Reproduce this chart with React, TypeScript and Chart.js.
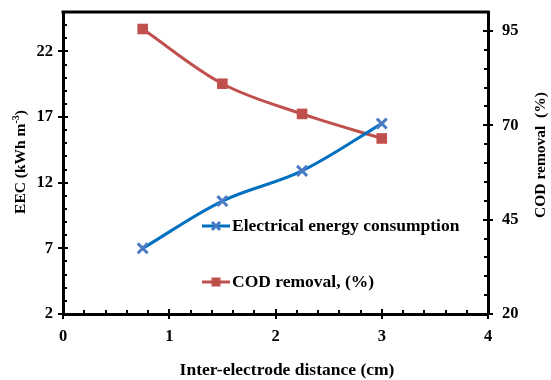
import React, { useEffect, useRef } from 'react';
import { Chart, registerables } from 'chart.js';

Chart.register(...registerables);

// ---- data ----
const distances = [0.75, 1.5, 2.25, 3];
const eecValues = [7.0, 10.6, 12.9, 16.5];
const codValues = [95.5, 81, 73, 66.5];

// ---- ticks ----
const xTicks = [0, 1, 2, 3, 4];
const eecTicks = [2, 7, 12, 17, 22];
const codTicks = [20, 45, 70, 95];
const xMinorStep = 0.2;
const eecMinorStep = 1;
const codMinorStep = 5;

const seriesNames = ['Electrical energy consumption', 'COD removal, (%)'];
const xTitle = 'Inter-electrode distance (cm)';
const codTitle = 'COD removal  (%)';

const FAMILY = '"Liberation Serif", "Times New Roman", serif';
const BLUE_LINE = '#0070C0';
const BLUE_MARK = '#4A7CC6';
const RED = '#C0504D';

const decorPlugin = {
  id: 'decor',
  afterDraw(chart: any) {
    const ctx = chart.ctx as CanvasRenderingContext2D;
    const { left, right, top, bottom } = chart.chartArea;
    const xs = chart.scales.x;
    const yl = chart.scales.y;
    const yr = chart.scales.y2;
    ctx.save();
    ctx.strokeStyle = '#000';
    // top frame
    ctx.lineWidth = 3;
    ctx.beginPath();
    ctx.moveTo(left - 1.5, top);
    ctx.lineTo(right + 1.5, top);
    ctx.stroke();

    ctx.lineWidth = 2;
    // x minor + inner major ticks
    for (let v = xs.min; v <= xs.max + 1e-9; v += xMinorStep) {
      const px = Math.round(xs.getPixelForValue(v));
      const isMajor = xTicks.some((t) => Math.abs(t - v) < 1e-6);
      if (isMajor && (Math.abs(v - xs.min) < 1e-6 || Math.abs(v - xs.max) < 1e-6)) continue;
      ctx.beginPath();
      ctx.moveTo(px, bottom);
      ctx.lineTo(px, bottom - (isMajor ? 5 : 4));
      ctx.stroke();
    }
    // left minor
    for (let v = yl.min; v <= yl.max + 1e-9; v += eecMinorStep) {
      const py = Math.round(yl.getPixelForValue(v));
      const isMajor = eecTicks.some((t) => Math.abs(t - v) < 1e-6);
      if (Math.abs(v - yl.min) < 1e-6 || Math.abs(v - yl.max) < 1e-6) continue;
      ctx.beginPath();
      ctx.moveTo(left, py);
      ctx.lineTo(left + (isMajor ? 5 : 4), py);
      ctx.stroke();
    }
    // right minor
    for (let v = yr.min; v <= yr.max + 1e-9; v += codMinorStep) {
      const py = Math.round(yr.getPixelForValue(v));
      const isMajor = codTicks.some((t) => Math.abs(t - v) < 1e-6);
      if (Math.abs(v - yr.min) < 1e-6 || Math.abs(v - yr.max) < 1e-6) continue;
      ctx.beginPath();
      ctx.moveTo(right, py);
      ctx.lineTo(right - (isMajor ? 5 : 4), py);
      ctx.stroke();
    }

    // titles
    ctx.fillStyle = '#000';
    const font = `bold 15.5px ${FAMILY}`;
    const bigFont = `bold 17.5px ${FAMILY}`;
    const smallFont = `bold 10px ${FAMILY}`;
    ctx.font = bigFont;
    ctx.textBaseline = 'middle';
    ctx.textAlign = 'center';
    ctx.fillText(xTitle, 287, 370);

    // left title with superscript
    const p1 = 'EEC (kWh m';
    const sup = '-3';
    const p3 = ')';
    ctx.font = font;
    const w1 = ctx.measureText(p1).width;
    const w3 = ctx.measureText(p3).width;
    ctx.font = smallFont;
    const w2 = ctx.measureText(sup).width;
    const total = w1 + w2 + w3;
    ctx.save();
    ctx.translate(21, 162);
    ctx.rotate(-Math.PI / 2);
    ctx.textAlign = 'left';
    ctx.font = font;
    ctx.fillText(p1, -total / 2, 0);
    ctx.font = smallFont;
    ctx.fillText(sup, -total / 2 + w1, -5);
    ctx.font = font;
    ctx.fillText(p3, -total / 2 + w1 + w2, 0);
    ctx.restore();

    // right title
    ctx.save();
    ctx.translate(541, 155);
    ctx.rotate(-Math.PI / 2);
    ctx.textAlign = 'center';
    ctx.font = font;
    ctx.fillText(codTitle, 0, 0);
    ctx.restore();

    // legend
    const items = [
      { y: 226, line: BLUE_LINE, mark: BLUE_MARK, kind: 'cross', label: seriesNames[0] },
      { y: 282, line: RED, mark: RED, kind: 'rect', label: seriesNames[1] },
    ];
    items.forEach((it) => {
      ctx.strokeStyle = it.line;
      ctx.lineWidth = 3;
      ctx.beginPath();
      ctx.moveTo(202, it.y);
      ctx.lineTo(230, it.y);
      ctx.stroke();
      const cx = 216;
      if (it.kind === 'cross') {
        ctx.strokeStyle = it.mark;
        ctx.lineWidth = 3;
        const r = 4;
        ctx.beginPath();
        ctx.moveTo(cx - r, it.y - r);
        ctx.lineTo(cx + r, it.y + r);
        ctx.moveTo(cx - r, it.y + r);
        ctx.lineTo(cx + r, it.y - r);
        ctx.stroke();
      } else {
        ctx.fillStyle = it.mark;
        ctx.fillRect(cx - 4.5, it.y - 4.5, 9, 9);
      }
      ctx.fillStyle = '#000';
      ctx.font = bigFont;
      ctx.textAlign = 'left';
      ctx.textBaseline = 'middle';
      ctx.fillText(it.label, 232, it.y);
    });
    ctx.restore();
  },
};

export default function App() {
  const ref = useRef<HTMLCanvasElement | null>(null);
  useEffect(() => {
    if (!ref.current) return;
    const tickFont = { family: FAMILY, size: 16.5, weight: 'bold' as const };
    const chart = new Chart(ref.current, {
      type: 'line',
      data: {
        datasets: [
          {
            label: seriesNames[0],
            data: distances.map((x, i) => ({ x, y: eecValues[i] })),
            yAxisID: 'y',
            borderColor: BLUE_LINE,
            backgroundColor: BLUE_MARK,
            pointBorderColor: BLUE_MARK,
            pointStyle: 'crossRot',
            pointRadius: 7,
            pointBorderWidth: 3,
            borderWidth: 3,
            tension: 0.35,
            fill: false,
          },
          {
            label: seriesNames[1],
            data: distances.map((x, i) => ({ x, y: codValues[i] })),
            yAxisID: 'y2',
            borderColor: RED,
            backgroundColor: RED,
            pointBorderColor: RED,
            pointStyle: 'rect',
            pointRadius: 7.5,
            pointBorderWidth: 0,
            borderWidth: 3,
            tension: 0.35,
            fill: false,
          },
        ],
      },
      options: {
        animation: false,
        responsive: true,
        maintainAspectRatio: false,
        layout: { padding: { top: 12, left: 0, right: 0, bottom: 0 } },
        plugins: { legend: { display: false }, tooltip: { enabled: false } },
        scales: {
          x: {
            type: 'linear',
            min: 0,
            max: 4,
            afterBuildTicks: (s: any) => {
              s.ticks = xTicks.map((v) => ({ value: v }));
            },
            afterFit: (s: any) => {
              s.height = 66;
              s.paddingLeft = 0;
              s.paddingRight = 0;
            },
            ticks: { color: '#000', font: tickFont, padding: 8, maxRotation: 0 },
            grid: { drawOnChartArea: false, drawTicks: true, tickLength: 5, color: '#000', lineWidth: 2 },
            border: { display: true, color: '#000', width: 3 },
          },
          y: {
            type: 'linear',
            position: 'left',
            min: 2,
            max: 25,
            afterBuildTicks: (s: any) => {
              s.ticks = eecTicks.map((v) => ({ value: v }));
            },
            afterFit: (s: any) => {
              s.width = 63;
              s.paddingTop = 0;
              s.paddingBottom = 0;
            },
            ticks: { color: '#000', font: tickFont, padding: 5 },
            grid: { drawOnChartArea: false, drawTicks: true, tickLength: 5, color: '#000', lineWidth: 2 },
            border: { display: true, color: '#000', width: 3 },
          },
          y2: {
            type: 'linear',
            position: 'right',
            min: 20,
            max: 100,
            afterBuildTicks: (s: any) => {
              s.ticks = codTicks.map((v) => ({ value: v }));
            },
            afterFit: (s: any) => {
              s.width = 63;
              s.paddingTop = 0;
              s.paddingBottom = 0;
            },
            ticks: { color: '#000', font: tickFont, padding: 9 },
            grid: { drawOnChartArea: false, drawTicks: true, tickLength: 5, color: '#000', lineWidth: 2 },
            border: { display: true, color: '#000', width: 3 },
          },
        },
      },
      plugins: [decorPlugin],
    });
    return () => chart.destroy();
  }, []);
  return (
    <div style={{ position: 'absolute', left: 0, top: 0, width: 551, height: 380, background: '#fff' }}>
      <canvas ref={ref} width={551} height={380} />
    </div>
  );
}
